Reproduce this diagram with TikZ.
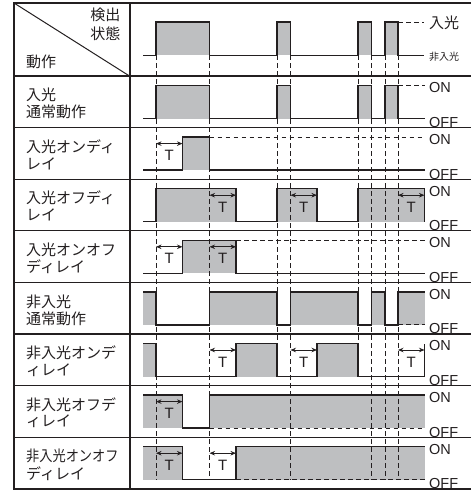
\documentclass[tikz,border=0pt]{standalone}
\usepackage{fontspec}
\setmainfont{Liberation Sans}
\newfontfamily\jpfont{Noto Sans CJK JP}
\usetikzlibrary{arrows.meta}
\definecolor{ink}{RGB}{35,31,32}
\definecolor{sig}{RGB}{190,191,193}
\tikzset{
  wave/.style={draw=ink, line width=1.3pt, line join=miter},
  gfill/.style={fill=sig},
  tdash/.style={draw=ink, line width=0.9pt, dash pattern=on 4.5pt off 3.5pt},
  gridline/.style={draw=ink, line width=1.3pt},
  thick frame/.style={draw=ink, line width=2pt},
  tarrow/.style={draw=ink, line width=0.9pt, {Stealth[length=5.5pt,width=4.5pt]}-{Stealth[length=5.5pt,width=4.5pt]}},
  tlab/.style={inner sep=0, font=\fontsize{15}{15}\selectfont, text=ink},
  lvl/.style={inner sep=0, anchor=west, font=\fontsize{14.5}{14.5}\selectfont, text=ink},
  rowlab/.style={inner sep=0, anchor=west, font=\jpfont\fontsize{15}{15}\selectfont, text=ink},
}
\newcommand\mydelayT[3]{%
  \draw[tarrow] (#1,16) -- (#2,16);
  \node[tlab] (#3) at ({(#1+#2)/2},28) {T};}
\newcommand\myonoff[1]{%
  \node[lvl] (#1on) at (429,12) {ON};
  \node[lvl] (#1off) at (429,46.5) {OFF};}
\begin{document}
\begin{tikzpicture}[x=1pt,y=-1pt]
\useasboundingbox (0,0) rectangle (471,491);
\def\hi{9.5}
\def\lo{42.5}
% ---------------- gray fills ----------------
\fill[gfill] (156,22) rectangle (209.5,55.3);
\fill[gfill] (277,22) rectangle (290.5,55.3);
\fill[gfill] (358,22) rectangle (371.5,55.3);
\fill[gfill] (385,22) rectangle (398,55.3);
\begin{scope}[yshift=-76pt]
\fill[gfill] (156,\hi) rectangle (209.5,\lo);
\fill[gfill] (277,\hi) rectangle (290.5,\lo);
\fill[gfill] (358,\hi) rectangle (371.5,\lo);
\fill[gfill] (385,\hi) rectangle (398,\lo);
\end{scope}
\begin{scope}[yshift=-127.6pt]
\fill[gfill] (182.5,\hi) rectangle (209.5,\lo);
\end{scope}
\begin{scope}[yshift=-179.2pt]
\fill[gfill] (156,\hi) rectangle (236,\lo);
\fill[gfill] (277,\hi) rectangle (317,\lo);
\fill[gfill] (358,\hi) rectangle (424.5,\lo);
\end{scope}
\begin{scope}[yshift=-230.8pt]
\fill[gfill] (182.5,\hi) rectangle (236,\lo);
\end{scope}
\begin{scope}[yshift=-282.4pt]
\fill[gfill] (143,\hi) rectangle (156,\lo);
\fill[gfill] (209.5,\hi) rectangle (277,\lo);
\fill[gfill] (290.5,\hi) rectangle (358,\lo);
\fill[gfill] (371.5,\hi) rectangle (385,\lo);
\fill[gfill] (398,\hi) rectangle (424.5,\lo);
\end{scope}
\begin{scope}[yshift=-334pt]
\fill[gfill] (143,\hi) rectangle (156,\lo);
\fill[gfill] (236,\hi) rectangle (277,\lo);
\fill[gfill] (317,\hi) rectangle (358,\lo);
\end{scope}
\begin{scope}[yshift=-385.6pt]
\fill[gfill] (143,\hi) rectangle (182.5,\lo);
\fill[gfill] (209.5,\hi) rectangle (424.5,\lo);
\end{scope}
\begin{scope}[yshift=-437.2pt]
\fill[gfill] (143,\hi) rectangle (182.5,\lo);
\fill[gfill] (236,\hi) rectangle (424.5,\lo);
\end{scope}
% ---------------- time markers ----------------
\foreach \t in {156,209.5,290.5,371.5,385,398}
  \draw[tdash] (\t,55.3) -- (\t,479.7);
\foreach \t in {277,358}
  \draw[tdash] (\t,55.3) -- (\t,376.5);
% ---------------- header signal ----------------
\draw[wave] (143,55.3) -- (156,55.3) -- (156,22) -- (209.5,22) -- (209.5,55.3)
  -- (277,55.3) -- (277,22) -- (290.5,22) -- (290.5,55.3)
  -- (358,55.3) -- (358,22) -- (371.5,22) -- (371.5,55.3)
  -- (385,55.3) -- (385,22) -- (398,22) -- (398,55.3) -- (423.5,55.3);
\draw[tdash] (398,22) -- (423.5,22);
\node[inner sep=0, anchor=west, font=\jpfont\fontsize{15}{15}\selectfont, text=ink] (inl) at (429,23) {入光};
\node[inner sep=0, anchor=west, font=\jpfont\fontsize{10}{10}\selectfont, text=ink] (noinl) at (429,57) {非入光};
% ---------------- row 1 ----------------
\begin{scope}[yshift=-76pt]
\draw[wave] (143,\lo) -- (156,\lo) -- (156,\hi) -- (209.5,\hi) -- (209.5,\lo)
  -- (277,\lo) -- (277,\hi) -- (290.5,\hi) -- (290.5,\lo)
  -- (358,\lo) -- (358,\hi) -- (371.5,\hi) -- (371.5,\lo)
  -- (385,\lo) -- (385,\hi) -- (398,\hi) -- (398,\lo) -- (424.5,\lo);
\draw[tdash] (398,\hi) -- (424.5,\hi);
\myonoff{r1}
\end{scope}
% ---------------- row 2 ----------------
\begin{scope}[yshift=-127.6pt]
\draw[wave] (143,\lo) -- (182.5,\lo) -- (182.5,\hi) -- (209.5,\hi) -- (209.5,\lo) -- (424.5,\lo);
\draw[tdash] (209.5,\hi) -- (424.5,\hi);
\mydelayT{156}{182.5}{r2t1}
\myonoff{r2}
\end{scope}
% ---------------- row 3 ----------------
\begin{scope}[yshift=-179.2pt]
\draw[wave] (143,\lo) -- (156,\lo) -- (156,\hi) -- (236,\hi) -- (236,\lo)
  -- (277,\lo) -- (277,\hi) -- (317,\hi) -- (317,\lo)
  -- (358,\lo) -- (358,\hi) -- (424.5,\hi) -- (424.5,\lo);
\mydelayT{209.5}{236}{r3t1}
\mydelayT{290.5}{317}{r3t2}
\mydelayT{398}{424.5}{r3t3}
\myonoff{r3}
\end{scope}
% ---------------- row 4 ----------------
\begin{scope}[yshift=-230.8pt]
\draw[wave] (143,\lo) -- (182.5,\lo) -- (182.5,\hi) -- (236,\hi) -- (236,\lo) -- (424.5,\lo);
\draw[tdash] (236,\hi) -- (424.5,\hi);
\mydelayT{156}{182.5}{r4t1}
\mydelayT{209.5}{236}{r4t2}
\myonoff{r4}
\end{scope}
% ---------------- row 5 ----------------
\begin{scope}[yshift=-282.4pt]
\draw[wave] (143,\hi) -- (156,\hi) -- (156,\lo) -- (209.5,\lo) -- (209.5,\hi)
  -- (277,\hi) -- (277,\lo) -- (290.5,\lo) -- (290.5,\hi)
  -- (358,\hi) -- (358,\lo) -- (371.5,\lo) -- (371.5,\hi)
  -- (385,\hi) -- (385,\lo) -- (398,\lo) -- (398,\hi) -- (424.5,\hi);
\draw[tdash] (398,\lo) -- (424.5,\lo);
\myonoff{r5}
\end{scope}
% ---------------- row 6 ----------------
\begin{scope}[yshift=-334pt]
\draw[wave] (143,\hi) -- (156,\hi) -- (156,\lo) -- (236,\lo) -- (236,\hi)
  -- (277,\hi) -- (277,\lo) -- (317,\lo) -- (317,\hi)
  -- (358,\hi) -- (358,\lo) -- (424.5,\lo) -- (424.5,\hi);
\mydelayT{209.5}{236}{r6t1}
\mydelayT{290.5}{317}{r6t2}
\mydelayT{398}{424.5}{r6t3}
\myonoff{r6}
\end{scope}
% ---------------- row 7 ----------------
\begin{scope}[yshift=-385.6pt]
\draw[wave] (143,\hi) -- (182.5,\hi) -- (182.5,\lo) -- (209.5,\lo) -- (209.5,\hi) -- (424.5,\hi);
\draw[tdash] (209.5,\lo) -- (424.5,\lo);
\mydelayT{156}{182.5}{r7t1}
\myonoff{r7}
\end{scope}
% ---------------- row 8 ----------------
\begin{scope}[yshift=-437.2pt]
\draw[wave] (143,\hi) -- (182.5,\hi) -- (182.5,\lo) -- (236,\lo) -- (236,\hi) -- (424.5,\hi);
\draw[tdash] (236,\lo) -- (424.5,\lo);
\mydelayT{156}{182.5}{r8t1}
\mydelayT{209.5}{236}{r8t2}
\myonoff{r8}
\end{scope}
% ---------------- row labels ----------------
\node[rowlab] (r1a) at (26,95) {入光};
\node[rowlab] (r1b) at (26,112) {通常動作};
\node[rowlab] (r2a) at (26,146.6) {入光オンディ};
\node[rowlab] (r2b) at (26,163.6) {レイ};
\node[rowlab] (r3a) at (26,198.2) {入光オフディ};
\node[rowlab] (r3b) at (26,215.2) {レイ};
\node[rowlab] (r4a) at (26,249.8) {入光オンオフ};
\node[rowlab] (r4b) at (26,266.8) {ディレイ};
\node[rowlab] (r5a) at (26,301.4) {非入光};
\node[rowlab] (r5b) at (26,318.4) {通常動作};
\node[rowlab] (r6a) at (26,353) {非入光オンデ};
\node[rowlab] (r6b) at (26,370) {ィレイ};
\node[rowlab] (r7a) at (26,404.6) {非入光オフデ};
\node[rowlab] (r7b) at (26,421.6) {ィレイ};
\node[rowlab] (r8a) at (26,456.2) {\scalebox{0.88}[1]{非入光オンオフ}};
\node[rowlab] (r8b) at (26,473.2) {ディレイ};
% ---------------- header labels ----------------
\node[inner sep=0, anchor=east, font=\jpfont\fontsize{15}{15}\selectfont, text=ink] (kd1) at (120.5,15) {検出};
\node[inner sep=0, anchor=east, font=\jpfont\fontsize{15}{15}\selectfont, text=ink] (kd2) at (120.5,33.3) {状態};
\node[rowlab] (dosa) at (26,61.7) {動作};
% ---------------- table frame ----------------
\draw[draw=ink, line width=1pt] (14,3) -- (129.5,76);
\foreach \y in {127.6,179.2,230.8,282.4,334,385.6,437.2}
  \draw[gridline] (14,\y) -- (471,\y);
\draw[draw=ink, line width=1.7pt] (14,76) -- (471,76);
\draw[thick frame] (14,3) -- (471,3);
\draw[thick frame] (14,489) -- (471,489);
\draw[thick frame] (14,2) -- (14,490);
\draw[thick frame] (129.5,3) -- (129.5,489);
\end{tikzpicture}
\end{document}
